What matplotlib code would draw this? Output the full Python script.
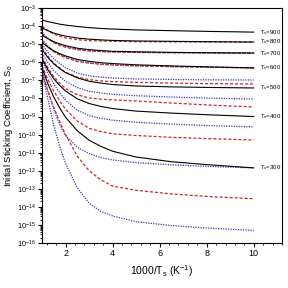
import numpy as np
import matplotlib
matplotlib.use("Agg")
import matplotlib.pyplot as plt
from matplotlib.ticker import LogLocator, MultipleLocator, NullFormatter

plt.rcParams['font.family'] = ['Liberation Sans', 'DejaVu Sans']
plt.rcParams['mathtext.fontset'] = 'custom'
plt.rcParams['mathtext.rm'] = 'Liberation Sans'
plt.rcParams['mathtext.it'] = 'Liberation Sans:italic'

# x = 1000/Ts, values are log10(S0)
x = [1, 1.25, 1.5, 1.75, 2, 2.5, 3, 3.5, 4, 5, 6.5, 8, 10]

# black solid curves, one per Ts
black_900 = [-3.66, -3.75, -3.82, -3.89, -3.94, -4.02, -4.08, -4.13, -4.16, -4.21, -4.25, -4.29, -4.33]
black_800 = [-4.10, -4.25, -4.38, -4.48, -4.55, -4.66, -4.72, -4.76, -4.79, -4.82, -4.84, -4.86, -4.88]
black_700 = [-4.50, -4.70, -4.86, -4.98, -5.08, -5.22, -5.30, -5.35, -5.39, -5.42, -5.45, -5.47, -5.49]
black_600 = [-4.90, -5.16, -5.37, -5.52, -5.65, -5.84, -5.95, -6.02, -6.07, -6.14, -6.20, -6.25, -6.31]
black_500 = [-5.30, -5.74, -6.09, -6.35, -6.57, -6.86, -7.05, -7.15, -7.23, -7.31, -7.36, -7.39, -7.42]
black_400 = [-5.80, -6.42, -6.91, -7.28, -7.59, -8.02, -8.28, -8.44, -8.56, -8.70, -8.81, -8.90, -9.00]
black_300 = [-6.30, -7.19, -7.93, -8.52, -9.04, -9.79, -10.31, -10.65, -10.92, -11.24, -11.50, -11.66, -11.84]

# red dashed curves
red_1 = [-4.00, -4.25, -4.45, -4.56, -4.65, -4.75, -4.80, -4.82, -4.84, -4.86, -4.87, -4.875, -4.88]
red_2 = [-4.40, -4.70, -4.92, -5.06, -5.17, -5.30, -5.37, -5.41, -5.43, -5.45, -5.47, -5.48, -5.49]
red_3 = [-4.80, -5.15, -5.42, -5.60, -5.75, -5.95, -6.05, -6.11, -6.15, -6.20, -6.24, -6.27, -6.31]
red_4 = [-5.20, -5.65, -6.05, -6.32, -6.55, -6.82, -6.96, -7.03, -7.07, -7.11, -7.15, -7.18, -7.20]
red_5 = [-5.70, -6.30, -6.80, -7.15, -7.45, -7.80, -7.97, -8.04, -8.08, -8.14, -8.25, -8.36, -8.47]
red_6 = [-6.20, -6.95, -7.60, -8.13, -8.60, -9.25, -9.65, -9.83, -9.95, -10.05, -10.15, -10.22, -10.30]
red_7 = [-6.60, -7.60, -8.50, -9.28, -10.00, -11.20, -12.00, -12.50, -12.85, -13.08, -13.28, -13.42, -13.55]

# blue dotted curves
blue_1 = [-4.35, -4.66, -4.89, -5.03, -5.15, -5.29, -5.36, -5.40, -5.43, -5.45, -5.47, -5.48, -5.49]
blue_2 = [-4.75, -5.10, -5.38, -5.57, -5.72, -5.92, -6.03, -6.10, -6.14, -6.19, -6.24, -6.27, -6.31]
blue_3 = [-5.00, -5.45, -5.80, -6.07, -6.30, -6.60, -6.75, -6.82, -6.87, -6.92, -6.95, -6.97, -6.98]
blue_4 = [-5.50, -6.00, -6.45, -6.78, -7.05, -7.40, -7.60, -7.70, -7.77, -7.85, -7.92, -7.98, -8.03]
blue_5 = [-5.90, -6.60, -7.20, -7.68, -8.10, -8.65, -8.95, -9.10, -9.20, -9.32, -9.42, -9.50, -9.57]
blue_6 = [-6.40, -7.60, -8.60, -9.45, -10.05, -10.70, -11.05, -11.27, -11.40, -11.55, -11.67, -11.76, -11.84]
blue_7 = [-6.50, -8.05, -9.50, -10.65, -11.60, -12.95, -13.80, -14.25, -14.50, -14.82, -15.03, -15.17, -15.30]

labels = ['900', '800', '700', '600', '500', '400', '300']
blacks = [black_900, black_800, black_700, black_600, black_500, black_400, black_300]
reds = [red_1, red_2, red_3, red_4, red_5, red_6, red_7]
blues = [blue_1, blue_2, blue_3, blue_4, blue_5, blue_6, blue_7]

fig = plt.figure(figsize=(2.88, 2.88), dpi=100)
ax = fig.add_axes([0.146, 0.156, 0.833, 0.816])

xa = np.array(x)
for b in blues:
    ax.plot(xa, 10 ** np.array(b), color='#3a3ab8', ls=(0, (1, 1)), lw=0.9)
for r in reds:
    ax.plot(xa, 10 ** np.array(r), color='#cc2a2a', ls=(0, (2.5, 1.5)), lw=0.9)
for bl, lab in zip(blacks, labels):
    ax.plot(xa, 10 ** np.array(bl), color='black', lw=0.8)
    ax.text(10.25, 10 ** bl[-1], '$\\mathregular{T_s}$=' + lab, fontsize=4.3,
            va='center', ha='left')

ax.set_yscale('log')
ax.set_xlim(1, 11.2)
ax.set_ylim(1e-16, 1e-3)
ax.yaxis.set_major_locator(LogLocator(base=10, numticks=30))
ax.yaxis.set_minor_locator(LogLocator(base=10, subs=np.arange(2, 10), numticks=30))
ax.yaxis.set_minor_formatter(NullFormatter())
ax.xaxis.set_major_locator(MultipleLocator(2))
ax.xaxis.set_minor_locator(MultipleLocator(0.4))
ax.tick_params(which='both', direction='out', top=False, right=False)
ax.tick_params(axis='y', labelsize=5.3)
ax.tick_params(axis='x', labelsize=6.5)
ax.tick_params(which='major', length=3, width=0.8, pad=1.2)
ax.tick_params(which='minor', length=1.5, width=0.6)
for s in ax.spines.values():
    s.set_linewidth(0.8)

ax.set_xlabel('1000/T$_\\mathregular{s}$ (K$^{\\mathregular{-1}}$)', fontsize=7.5)
ax.set_ylabel('Initial Sticking Coefficient, S$_\\mathregular{o}$', fontsize=6.8)
ax.yaxis.set_label_coords(-0.112, 0.5)

fig.savefig('out.png', dpi=100)
